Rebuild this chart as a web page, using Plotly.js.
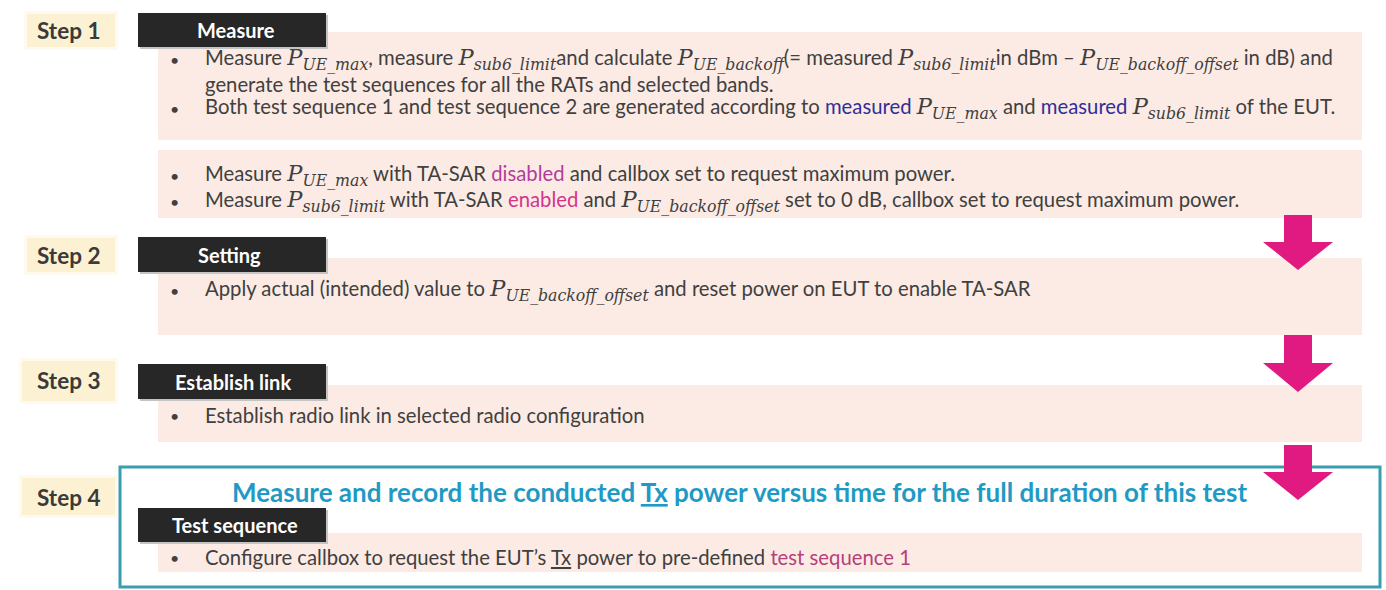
<!DOCTYPE html>
<html>
<head>
<meta charset="utf-8">
<script src="https://cdn.plot.ly/plotly-3.0.1.min.js"></script>
<style>html,body{margin:0;padding:0;background:#fff}#chart{width:1386px;height:590px}</style>
</head>
<body>
<div id="chart"></div>
<script>
// ---------- content ----------
const stepLabels = ['Step 1', 'Step 2', 'Step 3', 'Step 4'];
const headerLabels = ['Measure', 'Setting', 'Establish link', 'Test sequence'];

function P(sub) {
  return "<span style=\"font-family:'DejaVu Serif',serif;font-size:22.5px\"><i>P</i><sub><i>" + sub + "</i></sub></span>";
}
function col(c, t) { return '<span style="color:' + c + '">' + t + '</span>'; }
const BLUE = '#2f2f9a', MAG1 = '#b23c9c', MAG2 = '#d4338c', MAG3 = '#b5407a';

const step1LinesA = [
  'Measure ' + P('UE_max') + ', measure ' + P('sub6_limit') + 'and calculate ' + P('UE_backoff') +
    '(= measured ' + P('sub6_limit') + 'in dBm \u2013 ' + P('UE_backoff_offset') + ' in dB) and',
  'generate the test sequences for all the RATs and selected bands.',
  'Both test sequence 1 and test sequence 2 are generated according to ' + col(BLUE, 'measured') + ' ' +
    P('UE_max') + ' and ' + col(BLUE, 'measured') + ' ' + P('sub6_limit') + ' of the EUT.'
];
const step1LinesB = [
  'Measure ' + P('UE_max') + ' with TA-SAR ' + col(MAG1, 'disabled') + ' and callbox set to request maximum power.',
  'Measure ' + P('sub6_limit') + ' with TA-SAR ' + col(MAG2, 'enabled') + ' and ' + P('UE_backoff_offset') +
    ' set to 0 dB, callbox set to request maximum power.'
];
const step2Lines = ['Apply actual (intended) value to ' + P('UE_backoff_offset') + ' and reset power on EUT to enable TA-SAR'];
const step3Lines = ['Establish radio link in selected radio configuration'];
const step4Lines = ['Configure callbox to request the EUT\u2019s <u>Tx</u> power to pre-defined ' + col(MAG3, 'test sequence 1')];
const step4Title = 'Measure and record the conducted <u>Tx</u> power versus time for the full duration of this test';
const step1BulletsA = [true, false, true];

// ---------- layout geometry ----------
const FONT = "Lato, 'Open Sans', sans-serif";
const TXT = '#404040';
const BODY = 20.3;
const geo = {
  labelBox: [[27, 14, 115, 47], [27, 238, 115, 272], [22, 361, 115, 401], [22, 478, 115, 515]],
  labelY: [30, 255, 380, 497],
  headerBox: [[138, 13, 326, 47], [138, 237, 326, 272], [138, 364, 326, 399], [138, 508, 326, 542]],
  headerX: [195, 196, 173, 170],
  headerY: [30, 255, 382, 525],
  pink: [[158, 32, 1362, 140], [158, 150, 1362, 218], [158, 258, 1362, 335], [158, 385, 1362, 442], [158, 533, 1362, 572]],
  lineY: [[59, 84, 108], [175, 201], [290], [415], [557]],
  arrows: [[215, 242, 270], [335, 363, 392], [445, 472, 500]],
  arrowX: 1298,
  teal: [120, 467, 1380, 587],
  titleY: 492, titleX: 739
};

const shapes = [];
const annotations = [];
function rect(b, fill, layer) {
  shapes.push({type: 'rect', xref: 'x', yref: 'y', x0: b[0], y0: b[1], x1: b[2], y1: b[3],
    fillcolor: fill, line: {width: 0}, layer: layer || 'below'});
}
function text(x, y, t, opts) {
  annotations.push(Object.assign({x: x, y: y, xref: 'x', yref: 'y', text: t, showarrow: false,
    xanchor: 'left', yanchor: 'middle', font: {family: FONT, size: BODY, color: TXT}}, opts || {}));
}

// pink content boxes
geo.pink.forEach(b => rect(b, '#fcebe4'));
// teal frame
shapes.push({type: 'rect', xref: 'x', yref: 'y', x0: geo.teal[0], y0: geo.teal[1], x1: geo.teal[2], y1: geo.teal[3],
  fillcolor: 'rgba(0,0,0,0)', line: {color: '#3a9eb0', width: 3}, layer: 'above'});
// step labels
stepLabels.forEach((s, i) => {
  const b = geo.labelBox[i];
  rect([b[0] - 3, b[1] - 3, b[2] + 3, b[3] + 3], '#fefaee');
  rect(b, '#fcf2d3');
  text(35, geo.labelY[i], '<b>' + s + '</b>', {font: {family: FONT, size: 22.5, color: '#3a3a3a'}});
});
// headers
headerLabels.forEach((h, i) => {
  const b = geo.headerBox[i];
  rect([b[0] + 2, b[1] + 2, b[2] + 2, b[3] + 2], '#c4c4c4', 'above');
  rect(b, '#272727', 'above');
  text(geo.headerX[i], geo.headerY[i], '<b>' + h + '</b>', {font: {family: FONT, size: 20, color: '#ffffff'}});
});
// bullet lines
const groups = [
  [step1LinesA, step1BulletsA],
  [step1LinesB, [true, true]],
  [step2Lines, [true]],
  [step3Lines, [true]],
  [step4Lines, [true]]
];
groups.forEach((g, gi) => {
  g[0].forEach((line, li) => {
    const y = geo.lineY[gi][li];
    if (g[1][li]) text(168, y, '\u2022', {font: {family: FONT, size: 16, color: TXT}});
    text(203, y, line);
  });
});
// step 4 title
text(geo.titleX, geo.titleY, '<b>' + step4Title + '</b>',
  {xanchor: 'center', font: {family: FONT, size: 26, color: '#1f9ac4'}});
// arrows
geo.arrows.forEach(a => {
  const cx = geo.arrowX, sw = 14, hw = 35;
  const path = 'M' + (cx - sw) + ',' + a[0] + ' L' + (cx + sw) + ',' + a[0] + ' L' + (cx + sw) + ',' + a[1] +
    ' L' + (cx + hw) + ',' + a[1] + ' L' + cx + ',' + a[2] + ' L' + (cx - hw) + ',' + a[1] +
    ' L' + (cx - sw) + ',' + a[1] + ' Z';
  shapes.push({type: 'path', xref: 'x', yref: 'y', path: path, fillcolor: '#e01a80', line: {width: 0}, layer: 'above'});
});

const layout = {
  width: 1386, height: 590,
  margin: {l: 0, r: 0, t: 0, b: 0},
  paper_bgcolor: '#ffffff', plot_bgcolor: '#ffffff',
  xaxis: {range: [0, 1386], visible: false, fixedrange: true},
  yaxis: {range: [590, 0], visible: false, fixedrange: true},
  showlegend: false,
  shapes: shapes,
  annotations: annotations
};
Plotly.newPlot('chart', [], layout, {staticPlot: true, displayModeBar: false});
</script>
</body>
</html>
